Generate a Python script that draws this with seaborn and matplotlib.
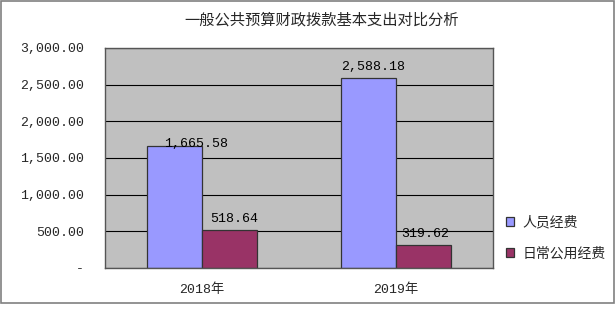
import matplotlib
matplotlib.use("Agg")
import matplotlib.pyplot as plt
import seaborn as sns
import pandas as pd
from matplotlib.patches import Rectangle

years = ["2018年", "2019年"]
series = ["人员经费", "日常公用经费"]
personnel = [1665.58, 2588.18]
daily = [518.64, 319.62]
yticks = [0, 500, 1000, 1500, 2000, 2500, 3000]
ytick_labels = ["-", "500.00", "1,000.00", "1,500.00", "2,000.00", "2,500.00", "3,000.00"]
title = "一般公共预算财政拨款基本支出对比分析"

sns.set_theme(style="white")
plt.rcParams["font.family"] = ["Liberation Mono", "Noto Sans CJK SC", "DejaVu Sans"]

df = pd.DataFrame({
    "year": years * 2,
    "series": [series[0]] * len(years) + [series[1]] * len(years),
    "value": personnel + daily,
})

fig = plt.figure(figsize=(6.16, 3.09), dpi=100)
ax = fig.add_axes([105 / 616, 1 - 268 / 309, 388 / 616, 220 / 309])

sns.barplot(data=df, x="year", y="value", hue="series", order=years,
            hue_order=series, palette=["#9999FF", "#993366"], width=0.567,
            gap=0, edgecolor="#333333", linewidth=0.9, saturation=1,
            ax=ax, legend=True, errorbar=None)

ax.set_facecolor("#C0C0C0")
ax.set_ylim(0, 3000)
ax.set_xlim(-0.5, 1.5)
ax.set_yticks(yticks)
ax.set_yticklabels(ytick_labels, fontsize=9.5)
ax.tick_params(axis="y", length=0, pad=15)
ax.tick_params(axis="x", length=0, pad=11, labelsize=9.5)
ax.set_xticks([0.5], minor=True)
ax.tick_params(axis="x", which="minor", direction="in", length=3, color="#555555")
ax.set_xlabel("")
ax.set_ylabel("")
ax.grid(axis="y", color="black", linewidth=0.8)
ax.set_axisbelow(True)
for s in ax.spines.values():
    s.set_visible(True)
    s.set_color("#555555")
    s.set_linewidth(1.0)

# data labels
offsets = {0: (22, -4), 1: (5, 5), 2: (5, 5), 3: (2, 5)}
vals = personnel + daily
for i, (p, v) in enumerate(zip(ax.patches[:4], vals)):
    dx, dy = offsets[i]
    ax.annotate(f"{v:,.2f}", (p.get_x() + p.get_width() / 2, p.get_height()),
                xytext=(dx, dy), textcoords="offset pixels",
                ha="center", va="bottom", fontsize=9.5, color="black")

handles, labels = ax.get_legend_handles_labels()
ax.get_legend().remove()
fig.legend(handles, labels, loc="upper left", bbox_to_anchor=(500 / 616, 1 - 210 / 309),
           frameon=False, fontsize=10, handlelength=0.6, handleheight=0.6,
           handletextpad=0.6, labelspacing=1.2, borderaxespad=0)

fig.text(322 / 616, 1 - 20 / 309, title, ha="center", va="center", fontsize=11)

fig.patches.append(Rectangle((1 / 616, 6 / 309), 613 / 616, 302 / 309,
                             transform=fig.transFigure, fill=False,
                             edgecolor="#808080", linewidth=1.2))

fig.savefig("out.png", dpi=100)
